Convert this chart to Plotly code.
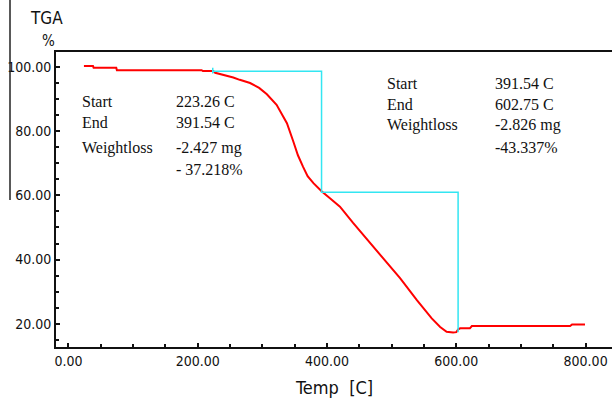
import plotly.graph_objects as go

# ---- data ----
temp_c = [24, 38, 39, 74, 75, 206, 208, 224, 227, 242, 255, 265, 281, 295, 307, 322,
          338, 348, 355, 363, 370, 379, 386, 392, 405, 420, 440, 461, 487, 513, 539,
          562, 575, 585, 595, 600, 603, 606, 621, 624, 776, 779, 799]
weight_pct = [100.3, 100.3, 99.8, 99.8, 99.0, 99.0, 98.75, 98.75, 98.2, 97.5, 96.7, 96.0,
              95.0, 93.5, 91.5, 88.2, 82.5, 76.7, 72.5, 68.9, 66.0, 63.8, 62.3, 61.2,
              59.0, 56.5, 51.5, 46.6, 40.4, 34.2, 27.4, 21.7, 19.0, 17.5, 17.3, 17.4,
              18.3, 18.6, 18.6, 19.3, 19.3, 19.8, 19.8]

step_temp = [223.26, 391.54, 391.54, 602.75, 602.75]
step_weight = [98.7, 98.7, 61.0, 61.0, 17.4]
start_tick_temp = [223.26, 223.26]
start_tick_weight = [98.0, 99.8]

x_ticks = [0, 200, 400, 600, 800]
y_ticks = [20, 40, 60, 80, 100]

left_block = [("Start", "223.26 C"), ("End", "391.54 C"), ("Weightloss", "-2.427 mg"), ("", "- 37.218%")]
right_block = [("Start", "391.54 C"), ("End", "602.75 C"), ("Weightloss", "-2.826 mg"), ("", "-43.337%")]

# ---- layout geometry (pixels) ----
W, H = 612, 403
L, R, T, B = 56, 0, 52, 56
PW, PH = W - L - R, H - T - B


def px(x):
    return (x - L) / PW


def py(y):
    return (H - B - y) / PH


fig = go.Figure()
fig.add_trace(go.Scatter(x=temp_c, y=weight_pct, mode="lines",
                         line=dict(color="#ff0000", width=2), showlegend=False))
fig.add_trace(go.Scatter(x=step_temp, y=step_weight, mode="lines",
                         line=dict(color="#33e6f2", width=1.5), showlegend=False))
fig.add_trace(go.Scatter(x=start_tick_temp, y=start_tick_weight, mode="lines",
                         line=dict(color="#33e6f2", width=1.5), showlegend=False))

tickfont = dict(family="DejaVu Sans Condensed, DejaVu Sans", size=14, color="#111")

fig.update_xaxes(range=[-19.2, 840.8], tickvals=x_ticks, tickformat=".2f",
                 showgrid=False, zeroline=False, showline=True, linecolor="#111",
                 linewidth=2, mirror=True, ticks="inside", ticklen=4, tickwidth=2,
                 tickcolor="#111", tickfont=tickfont,
                 minor=dict(ticks="inside", dtick=50, ticklen=3, tickwidth=2, tickcolor="#111"))
fig.update_yaxes(range=[12.77, 104.67], tickvals=y_ticks, tickformat=".2f",
                 showgrid=False, zeroline=False, showline=True, linecolor="#111",
                 linewidth=2, ticks="inside", ticklen=4, tickwidth=2,
                 tickcolor="#111", tickfont=tickfont,
                 minor=dict(ticks="inside", dtick=5, ticklen=3, tickwidth=2, tickcolor="#111"))

annots = []
serif = dict(family="Liberation Serif, Times New Roman, serif", size=16, color="#111")
left_rows = [101.7, 122.7, 148.3, 169.3]
for (lab, val), yy in zip(left_block, left_rows):
    if lab:
        annots.append(dict(x=px(80), y=py(yy), text=lab))
    annots.append(dict(x=px(174), y=py(yy), text=val))
right_rows = [84, 104.3, 125, 147.3]
for (lab, val), yy in zip(right_block, right_rows):
    if lab:
        annots.append(dict(x=px(385), y=py(yy), text=lab))
    annots.append(dict(x=px(493), y=py(yy), text=val))
for a in annots:
    a.update(xref="paper", yref="paper", xanchor="left", yanchor="middle",
             showarrow=False, font=serif)

label_font = dict(family="DejaVu Sans Condensed, DejaVu Sans", size=17, color="#111")
annots.append(dict(x=px(46), y=py(18), text="TGA", xref="paper", yref="paper",
                   xanchor="center", yanchor="middle", showarrow=False, font=label_font))
annots.append(dict(x=px(48), y=py(41), text="%", xref="paper", yref="paper",
                   xanchor="center", yanchor="middle", showarrow=False,
                   font=dict(family="DejaVu Sans Condensed, DejaVu Sans", size=15, color="#111")))
annots.append(dict(x=px(334), y=py(387), text="Temp\u00a0 [C]", xref="paper", yref="paper",
                   xanchor="center", yanchor="middle", showarrow=False,
                   font=dict(family="DejaVu Sans Condensed, DejaVu Sans", size=18, color="#111")))

fig.update_layout(
    width=W, height=H,
    margin=dict(l=L, r=R, t=T, b=B, pad=0),
    paper_bgcolor="white", plot_bgcolor="white",
    annotations=annots,
    shapes=[dict(type="line", xref="paper", yref="paper",
                 x0=px(10), x1=px(10), y0=py(200), y1=py(0),
                 line=dict(color="#222", width=1.5))],
)

fig.write_html("out.html")
